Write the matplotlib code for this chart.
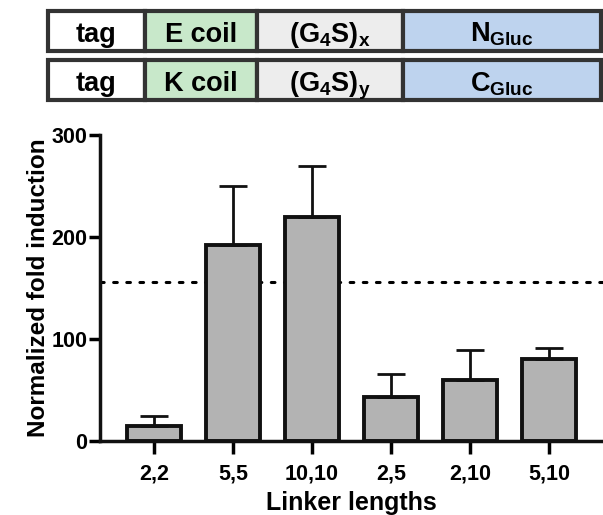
import matplotlib.pyplot as plt
from matplotlib.patches import Rectangle

plt.rcParams['font.family'] = ['Liberation Sans', 'DejaVu Sans']
plt.rcParams['font.weight'] = 'bold'
plt.rcParams['mathtext.fontset'] = 'custom'
plt.rcParams['mathtext.rm'] = 'Liberation Sans:bold'
plt.rcParams['mathtext.it'] = 'Liberation Sans:bold'
plt.rcParams['mathtext.bf'] = 'Liberation Sans:bold'

linkers = ['2,2', '5,5', '10,10', '2,5', '2,10', '5,10']
fold = [15, 192, 220, 43, 60, 80]
fold_sd = [10, 58, 50, 23, 29, 11]
cutoff = 156

# construct diagram: label and fill for each segment
row1 = ['tag', 'E coil', r'$\mathrm{(G_4S)_x}$', r'$\mathrm{N_{Gluc}}$']
row2 = ['tag', 'K coil', r'$\mathrm{(G_4S)_y}$', r'$\mathrm{C_{Gluc}}$']
seg_colors = ['white', '#c8e8ca', '#ededed', '#bed3ee']

fig = plt.figure(figsize=(6.03, 5.15), dpi=100)

# top strip drawn in pixel coordinates
top = fig.add_axes([0, 0, 1, 1])
top.set_xlim(0, 603)
top.set_ylim(515, 0)
top.axis('off')
edges = [48, 145, 257, 403, 601]
for y0, labels in [(11, row1), (60, row2)]:
    for i, lab in enumerate(labels):
        x0, x1 = edges[i], edges[i + 1]
        top.add_patch(Rectangle((x0, y0), x1 - x0, 40, facecolor=seg_colors[i],
                                edgecolor='#333333', linewidth=3))
        top.text((x0 + x1) / 2, y0 + 31, lab, ha='center', va='baseline',
                 fontsize=19.5, fontweight='bold')

ax = fig.add_axes([100 / 603, 1 - 441 / 515, 1 - 100 / 603, (441 - 135) / 515])
x = range(len(linkers))
ax.axhline(cutoff, color='black', lw=2.2, dashes=(1.2, 3.1),
           dash_capstyle='round', zorder=1)
ax.bar(x, fold, width=0.68, color='#b3b3b3', edgecolor='#111111',
       linewidth=2.8, zorder=2)
ax.errorbar(x, fold, yerr=[[0] * len(fold), fold_sd], fmt='none',
            ecolor='#111111', elinewidth=2, capsize=10, capthick=2, zorder=3)

ax.set_xlim(-0.68, 5.68)
ax.set_ylim(0, 300)
ax.set_yticks([0, 100, 200, 300])
ax.set_xticks(list(x))
ax.set_xticklabels(linkers)
for s in ['top', 'right']:
    ax.spines[s].set_visible(False)
for s in ['left', 'bottom']:
    ax.spines[s].set_linewidth(2.5)
    ax.spines[s].set_color('#111111')
ax.tick_params(axis='x', length=9, width=2.5, labelsize=15.5, pad=7)
ax.tick_params(axis='y', length=8, width=2.5, labelsize=15.5, pad=1)
for t in ax.get_xticklabels() + ax.get_yticklabels():
    t.set_fontweight('bold')
ax.set_ylabel('Normalized fold induction', fontsize=17.5, fontweight='bold', labelpad=1)
ax.set_xlabel('Linker lengths', fontsize=18, fontweight='bold', labelpad=5)

fig.savefig('out.png', dpi=100)
